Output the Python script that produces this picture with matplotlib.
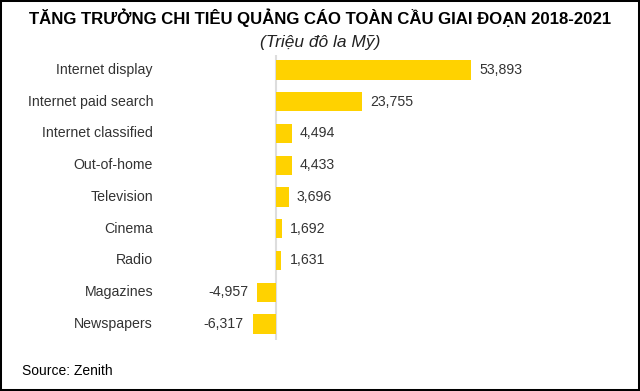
import matplotlib
matplotlib.use("Agg")
import matplotlib.pyplot as plt
from matplotlib.patches import Rectangle
import matplotlib.transforms as mtransforms

plt.rcParams['font.family'] = ['Liberation Sans', 'DejaVu Sans']

categories = ["Internet display", "Internet paid search", "Internet classified",
              "Out-of-home", "Television", "Cinema", "Radio", "Magazines", "Newspapers"]
values = [53893, 23755, 4494, 4433, 3696, 1692, 1631, -4957, -6317]
value_labels = ["53,893", "23,755", "4,494", "4,433", "3,696", "1,692", "1,631", "-4,957", "-6,317"]

title = "TĂNG TRƯỞNG CHI TIÊU QUẢNG CÁO TOÀN CẦU GIAI ĐOẠN 2018-2021"
subtitle = "(Triệu đô la Mỹ)"
source = "Source: Zenith"

W, H = 640, 391
fig = plt.figure(figsize=(W / 100, H / 100), dpi=100)
fig.patch.set_facecolor('white')

# axes placement in pixels
L, R, T, B = 160, 620, 55, 340
ax = fig.add_axes([L / W, 1 - B / H, (R - L) / W, (B - T) / H])
upp = 275.0  # units per pixel
zero_px = 275.5
ax.set_xlim((L - zero_px) * upp, (R - zero_px) * upp)
spacing = 31.75
top_c = 70
ax.set_ylim(8 + (B - (top_c + 8 * spacing)) / spacing, -(top_c - T) / spacing)
ax.axis('off')

ypos = list(range(len(categories)))
ax.barh(ypos, values, height=0.6, color='#FFD200', zorder=2)
ax.axvline(0, color='#dddddd', lw=1.5, zorder=1)

fs = 10.2
lab_tr = mtransforms.blended_transform_factory(fig.transFigure, ax.transData)
for y, c, v, s in zip(ypos, categories, values, value_labels):
    ax.text(153 / W, y, c, transform=lab_tr, ha='right', va='center',
            fontsize=fs, color='#333333')
    if v >= 0:
        ax.text(v + 8 * upp, y, s, ha='left', va='center', fontsize=fs, color='#333333')
    else:
        ax.text(v - 9 * upp, y, s, ha='right', va='center', fontsize=fs, color='#333333')

fig.text(0.5, 1 - 18 / H, title, ha='center', va='center', fontsize=12.1,
         fontweight='bold', color='black')
fig.text(0.5, 1 - 42 / H, subtitle, ha='center', va='center', fontsize=12.5,
         style='italic', color='#222222')
fig.text(22 / W, 1 - 371 / H, source, ha='left', va='center', fontsize=10, color='black')

fig.patches.append(Rectangle((0, 0), 1, 1, transform=fig.transFigure, fill=False,
                             ec='black', lw=2.9, zorder=10))

fig.savefig("out.png", dpi=100)
